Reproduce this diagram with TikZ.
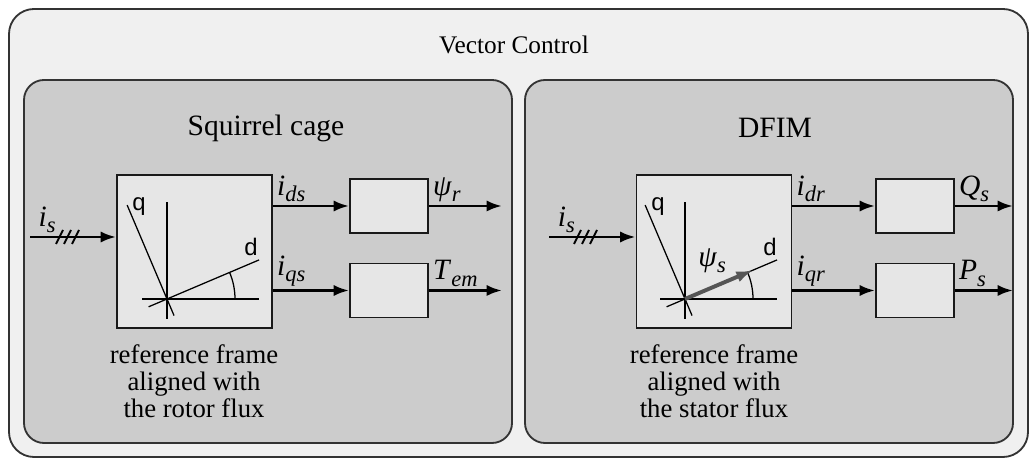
\documentclass[tikz,border=0pt]{standalone}
\usepackage{fontspec}
\setmainfont{Liberation Serif}
\setsansfont{Liberation Sans}
\usetikzlibrary{arrows.meta}

\definecolor{outerfill}{HTML}{F0F0F0}
\definecolor{panelfill}{HTML}{CCCCCC}
\definecolor{blockfill}{HTML}{E6E6E6}
\definecolor{fluxgray}{HTML}{555555}

% italic symbol with italic subscript
\newcommand{\sig}[2]{\textit{#1}\raisebox{-0.45ex}{\fontsize{16}{16}\selectfont\textit{#2}}}

\begin{document}
\begin{tikzpicture}[x=0.025cm, y=0.025cm,
    panel/.style={draw=black!80, line width=1.3pt, rounded corners=0.5cm, fill=panelfill},
    frame/.style={rectangle, draw=black!90, line width=1.3pt, fill=blockfill, minimum width=3.875cm, minimum height=3.825cm},
    block/.style={rectangle, draw=black!90, line width=1.3pt, fill=blockfill, minimum width=1.95cm, minimum height=1.35cm},
    sig/.style={-{Latex[length=11pt, width=8pt]}, line width=2pt},
    axis/.style={line width=0.9pt},
    lbl/.style={font=\fontsize{21}{21}\selectfont, inner sep=2pt},
    axlbl/.style={font=\sffamily\fontsize{17}{17}\selectfont, inner sep=0pt},
    title/.style={font=\fontsize{21}{21}\selectfont},
    caption/.style={align=center, font=\fontsize{19}{19.2}\selectfont}
]
\useasboundingbox (0,0) rectangle (1029,458);

% Containers
\draw[line width=1.3pt, draw=black!80, rounded corners=0.625cm, fill=outerfill] (9,449) rectangle (1028,1);
\node[title, font=\fontsize{18}{18}\selectfont] (vc) at (514,413) {Vector Control};
\draw[panel] (24,378) rectangle (512,15);
\draw[panel] (525,378) rectangle (1013,15);
\node[title] (sqc) at (266,330) {Squirrel cage};
\node[title] (dfim) at (775,330) {DFIM};

% Squirrel cage
\node[frame] (frameL) at (194.5,206.5) {};
\node[block] (fluxL) at (389,252) {};
\node[block] (torqL) at (389,167.5) {};
\coordinate (inL) at (30,221);
\coordinate (hashL) at (67,221);
\coordinate (outfluxL) at (502,252);
\coordinate (outtorqL) at (502,167.5);
\coordinate (oL) at (167,159);

\draw[sig] (inL) -- node[lbl, above, pos=0.2] {\sig{i}{s}} (inL -| frameL.west);
\foreach \dx in {-8,0,8}
    \draw[line width=1.3pt] (hashL) ++(\dx-3,-7) -- ++(7,14);
\draw[sig] (frameL.east |- fluxL) -- node[lbl, above right, pos=0] {\sig{i}{ds}} (fluxL.west);
\draw[sig] (frameL.east |- torqL) -- node[lbl, above right, pos=0] {\sig{i}{qs}} (torqL.west);
\draw[sig] (fluxL.east) -- node[lbl, above right, pos=0] {\sig{ψ}{r}} (outfluxL);
\draw[sig] (torqL.east) -- node[lbl, above right, pos=0] {\sig{T}{em}} (outtorqL);

\draw[axis] (oL) ++(0,-20) -- ++(0,117);
\draw[axis] (oL) ++(-25,0) -- ++(117,0);
\draw[axis] (oL) ++(203:20) -- ++(23:120);
\draw[axis] (oL) ++(293:18) -- ++(113:120);
\draw[axis] (oL) ++(68,0) arc[start angle=0, end angle=23, radius=68];
\node[axlbl] (qL) at (139,251) {q};
\node[axlbl] (dL) at (251,211) {d};

\node[caption] (capL) at (194,77) {reference frame\\aligned with\\the rotor flux};

% DFIM
\node[frame] (frameR) at (714,206.5) {};
\node[block] (reacR) at (915,252) {};
\node[block] (actR) at (915,167.5) {};
\coordinate (inR) at (549,221);
\coordinate (hashR) at (585,221);
\coordinate (outreacR) at (1013,252);
\coordinate (outactR) at (1013,167.5);
\coordinate (oR) at (685,159);

\draw[sig] (inR) -- node[lbl, above, pos=0.2] {\sig{i}{s}} (inR -| frameR.west);
\foreach \dx in {-8,0,8}
    \draw[line width=1.3pt] (hashR) ++(\dx-3,-7) -- ++(7,14);
\draw[sig] (frameR.east |- reacR) -- node[lbl, above right, pos=0] {\sig{i}{dr}} (reacR.west);
\draw[sig] (frameR.east |- actR) -- node[lbl, above right, pos=0] {\sig{i}{qr}} (actR.west);
\draw[sig] (reacR.east) -- node[lbl, above right, pos=0] {\sig{Q}{s}} (outreacR);
\draw[sig] (actR.east) -- node[lbl, above right, pos=0] {\sig{P}{s}} (outactR);

\draw[axis] (oR) ++(0,-20) -- ++(0,117);
\draw[axis] (oR) ++(-25,0) -- ++(117,0);
\draw[axis] (oR) ++(203:20) -- ++(23:120);
\draw[axis] (oR) ++(293:18) -- ++(113:120);
\draw[axis] (oR) ++(68,0) arc[start angle=0, end angle=23, radius=68];
\draw[line width=2.8pt, fluxgray, -{Latex[length=12pt, width=8pt]}] (oR) -- ++(23:74);
\node[axlbl] (qR) at (658,251) {q};
\node[axlbl] (dR) at (770,211) {d};
\node[lbl] (psiS) at (712,197) {\sig{ψ}{s}};

\node[caption] (capR) at (714,77) {reference frame\\aligned with\\the stator flux};

\end{tikzpicture}
\end{document}
